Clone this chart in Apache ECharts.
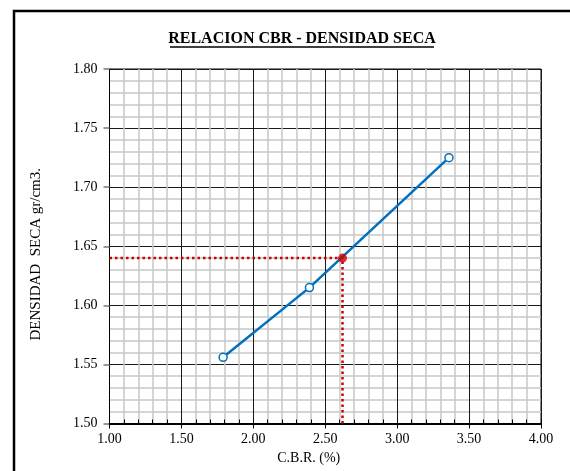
<!DOCTYPE html>
<html>
<head>
<meta charset="utf-8">
<title>RELACION CBR - DENSIDAD SECA</title>
<script src="https://cdn.jsdelivr.net/npm/echarts@6/dist/echarts.min.js"></script>
<style>
  html, body { margin: 0; padding: 0; background: #fff; }
  #main { width: 570px; height: 471px; }
</style>
</head>
<body>
<div id="main"></div>
<script>
// datos del ensayo
var cbr = [1.79, 2.39, 3.36];
var densidad = [1.556, 1.615, 1.725];
// punto de diseño
var cbrDiseno = [2.62];
var densDiseno = [1.64];
// ejes
var xMin = 1.0, xMax = 4.0, xPaso = 0.5;
var yMin = 1.5, yMax = 1.8, yPaso = 0.05;

var serif = "'Liberation Serif', 'Times New Roman', serif";

var chart = echarts.init(document.getElementById('main'), null, { renderer: 'canvas' });

// puntos de la curva
var curva = cbr.map(function (v, i) { return [v, densidad[i]]; });
var diseno = [cbrDiseno[0], densDiseno[0]];
// lineas punteadas hasta los ejes
var guia = [[xMin, densDiseno[0]], diseno, [cbrDiseno[0], yMin]];

var option = {
  animation: false,
  backgroundColor: '#fff',
  title: {
    text: 'RELACION CBR - DENSIDAD SECA',
    left: 302,
    textAlign: 'center',
    top: 31,
    padding: 0,
    textStyle: { fontFamily: serif, fontSize: 16, fontWeight: 'bold', color: '#000' }
  },
  grid: {
    left: 109.5, right: 29, top: 69, bottom: 47.5,
    show: true, borderColor: '#000', borderWidth: 1
  },
  xAxis: [{
    type: 'value',
    min: xMin, max: xMax, interval: xPaso,
    name: 'C.B.R. (%)',
    nameLocation: 'middle',
    nameGap: 27,
    nameTextStyle: { fontFamily: serif, fontSize: 14, color: '#000', padding: [0, 33, 0, 0] },
    axisLine: { lineStyle: { color: '#000', width: 2 } },
    axisTick: { show: true, length: 5, lineStyle: { color: '#000', width: 1 } },
    axisLabel: {
      fontFamily: serif, fontSize: 14, color: '#000', margin: 9,
      formatter: function (v) { return v.toFixed(2); }
    },
    splitLine: { lineStyle: { color: '#1a1a1a', width: 1 } },
    minorTick: { show: false, splitNumber: 5 },
    minorSplitLine: { show: true, lineStyle: { color: '#c8c8c8', width: 1.5 } }
  }, {
    // solo para las marcas menores hacia adentro
    type: 'value',
    position: 'bottom',
    min: xMin, max: xMax, interval: 0.1,
    axisLine: { show: false },
    axisTick: { show: true, inside: true, length: 4, lineStyle: { color: '#000', width: 1 } },
    axisLabel: { show: false },
    splitLine: { show: false }
  }],
  yAxis: {
    type: 'value',
    min: yMin, max: yMax, interval: yPaso,
    name: 'DENSIDAD  SECA gr/cm3.',
    nameLocation: 'middle',
    nameGap: 66,
    nameTextStyle: { fontFamily: serif, fontSize: 15, color: '#000', padding: [0, 16, 0, 0] },
    axisLine: { show: true, lineStyle: { color: '#000', width: 1 } },
    axisTick: { show: true, length: 6, lineStyle: { color: '#6c7a90', width: 1.5 } },
    axisLabel: {
      fontFamily: serif, fontSize: 14, color: '#000', margin: 12,
      formatter: function (v) { return v.toFixed(2); }
    },
    splitLine: { lineStyle: { color: '#1a1a1a', width: 1 } },
    minorTick: { show: false, splitNumber: 5 },
    minorSplitLine: { show: true, lineStyle: { color: '#c8c8c8', width: 1.5 } }
  },
  series: [
    {
      type: 'line',
      data: guia,
      symbol: 'none',
      lineStyle: { color: '#cc0000', width: 2.5, type: [2.5, 3] },
      z: 3
    },
    {
      type: 'line',
      data: curva,
      symbol: 'circle',
      symbolSize: 8,
      lineStyle: { color: '#0070c0', width: 2.5 },
      itemStyle: { color: '#fff', borderColor: '#0070c0', borderWidth: 1.5 },
      z: 4
    },
    {
      type: 'scatter',
      data: [diseno],
      symbol: 'circle',
      symbolSize: 9,
      itemStyle: { color: '#cc0000' },
      z: 5
    }
  ],
  graphic: [
    // marco exterior (solo se ve arriba e izquierda)
    { type: 'polyline', shape: { points: [[14, 471], [14, 11], [570, 11]] },
      style: { stroke: '#000', lineWidth: 2.5, fill: null } },
    // subrayado del titulo
    { type: 'line', shape: { x1: 170, y1: 47, x2: 434, y2: 47 },
      style: { stroke: '#000', lineWidth: 1.5 } }
  ]
};

chart.setOption(option);
</script>
</body>
</html>
